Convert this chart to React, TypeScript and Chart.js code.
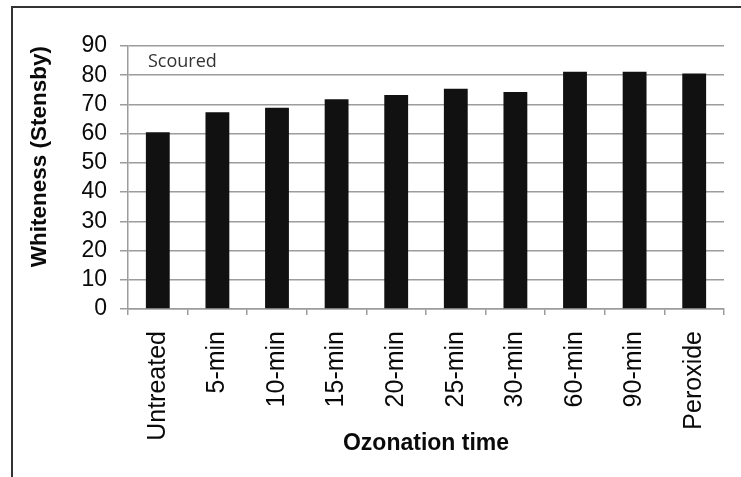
import React, { useEffect, useRef } from "react";
import { Chart, registerables } from "chart.js";

Chart.register(...registerables);

const categories = ["Untreated", "5-min", "10-min", "15-min", "20-min", "25-min", "30-min", "60-min", "90-min", "Peroxide"];
const whiteness = [60.5, 67.3, 68.9, 71.8, 73.2, 75.4, 74.3, 81.2, 81.2, 80.6];
const yTitle = "Whiteness (Stensby)";
const xTitle = "Ozonation time";
const noteText = "Scoured";

const FONT = "'Liberation Sans', Arial, sans-serif";
const GRID = "#9c9c9c";

const notePlugin = {
  id: "note",
  afterDatasetsDraw(chart: any) {
    const { ctx, chartArea } = chart;
    ctx.save();
    ctx.font = "18px 'Open Sans', sans-serif";
    ctx.fillStyle = "#333";
    ctx.textBaseline = "middle";
    ctx.textAlign = "left";
    ctx.fillText(noteText, chartArea.left + 20, chartArea.top + 16);
    ctx.restore();
  },
};

export default function App() {
  const ref = useRef<HTMLCanvasElement>(null);
  useEffect(() => {
    if (!ref.current) return;
    const chart = new Chart(ref.current, {
      type: "bar",
      data: {
        labels: categories,
        datasets: [
          {
            data: whiteness,
            backgroundColor: "#111111",
            borderWidth: 0,
            barPercentage: 0.4,
            categoryPercentage: 1,
          },
        ],
      },
      options: {
        responsive: false,
        animation: false,
        layout: { padding: { top: 46, right: 16, left: 0, bottom: 0 } },
        plugins: { legend: { display: false }, tooltip: { enabled: false } },
        scales: {
          x: {
            grid: { offset: true, drawOnChartArea: false, drawTicks: true, tickLength: 6, color: GRID, lineWidth: 1.5 },
            border: { display: true, color: GRID, width: 1.5 },
            ticks: {
              autoSkip: false,
              maxRotation: 90,
              minRotation: 90,
              padding: 16,
              color: "#0a0a0a",
              font: { family: FONT, size: 25 },
            },
            title: {
              display: true,
              text: xTitle,
              color: "#0a0a0a",
              font: { family: FONT, size: 23, weight: "bold" },
              padding: { top: 0, bottom: 20 },
            },
            afterFit(scale: any) {
              scale.height = 168;
            },
          },
          y: {
            min: 0,
            max: 90,
            ticks: { autoSkip: false, stepSize: 10, padding: 13, color: "#0a0a0a", font: { family: FONT, size: 23 } },
            grid: { color: GRID, lineWidth: 1.5, tickLength: 8 },
            border: { display: true, color: GRID, width: 1.5 },
            title: {
              display: true,
              text: yTitle,
              align: "end",
              color: "#0a0a0a",
              font: { family: FONT, size: 22.5, weight: "bold" },
              padding: { top: 26, bottom: 0 },
            },
            afterFit(scale: any) {
              scale.width = 128;
            },
          },
        },
      },
      plugins: [notePlugin],
    } as any);
    return () => chart.destroy();
  }, []);
  return (
    <div style={{ position: "fixed", left: 0, top: 0, width: 741, height: 477, background: "#fff", overflow: "hidden" }}>
      <div
        style={{
          position: "absolute",
          left: 11,
          top: 6,
          width: 740,
          height: 480,
          borderTop: "2px solid #333",
          borderLeft: "2px solid #333",
        }}
      />
      <canvas ref={ref} width={741} height={477} style={{ position: "absolute", left: 0, top: 0 }} />
    </div>
  );
}
